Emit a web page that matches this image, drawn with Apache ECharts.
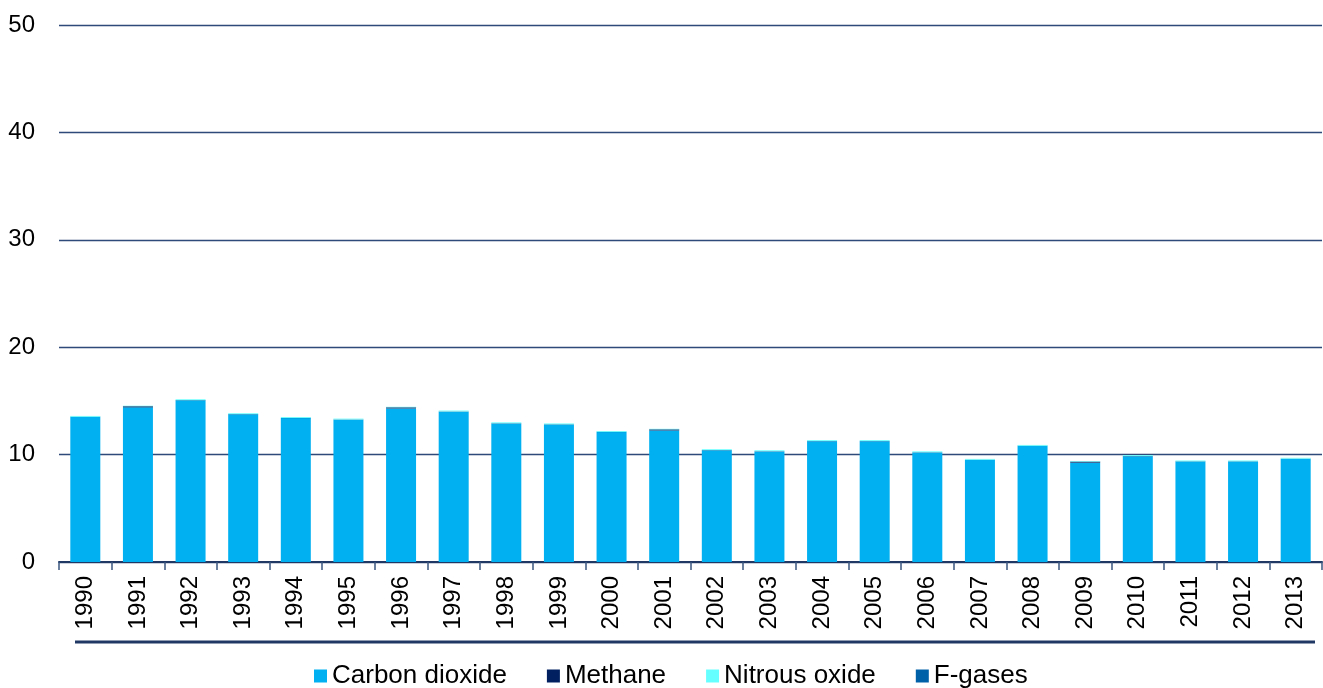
<!DOCTYPE html>
<html>
<head>
<meta charset="utf-8">
<script src="https://cdn.jsdelivr.net/npm/echarts@6/dist/echarts.min.js"></script>
<style>
  html, body { margin: 0; padding: 0; background: #fff; }
  #chart { width: 1323px; height: 688px; }
</style>
</head>
<body>
<div id="chart"></div>
<script>
// years on the x axis
const years = ['1990','1991','1992','1993','1994','1995','1996','1997','1998','1999','2000','2001',
  '2002','2003','2004','2005','2006','2007','2008','2009','2010','2011','2012','2013']
// emissions per gas
const carbonDioxide = [13.5, 14.4, 15.05, 13.75, 13.4, 13.25, 14.3, 14.0, 12.9, 12.8, 12.1, 12.25,
  10.4, 10.3, 11.25, 11.25, 10.2, 9.5, 10.8, 9.25, 9.85, 9.35, 9.35, 9.6]
const methane = [0.02, 0.1, 0.02, 0.02, 0.02, 0.02, 0.1, 0.02, 0.02, 0.02, 0.02, 0.1,
  0.02, 0.02, 0.02, 0.02, 0.02, 0.02, 0.02, 0.1, 0.02, 0.02, 0.02, 0.02]
const nitrousOxide = [0.08, 0.05, 0.08, 0.08, 0.08, 0.08, 0.05, 0.08, 0.08, 0.08, 0.08, 0.05,
  0.08, 0.08, 0.08, 0.08, 0.08, 0.08, 0.08, 0.05, 0.08, 0.08, 0.08, 0.08]
const fGases = [0, 0, 0, 0, 0, 0, 0, 0, 0, 0, 0, 0, 0, 0, 0, 0, 0, 0, 0, 0, 0, 0, 0, 0]
const yTicks = [0, 10, 20, 30, 40, 50]

const chart = echarts.init(document.getElementById('chart'))
const font = 'Liberation Sans, Arial, sans-serif'

const mkSeries = (name, data, color) => ({
  name, type: 'bar', stack: 'total', data,
  barCategoryGap: '43%',
  itemStyle: { color },
  emphasis: { disabled: true }
})

const option = {
  animation: false,
  textStyle: { fontFamily: font },
  grid: { left: 59, right: 1, top: 25, bottom: 126 },
  legend: {
    left: 309, top: 658,
    itemWidth: 13, itemHeight: 13, itemGap: 40,
    icon: 'rect',
    textStyle: { fontSize: 26, color: '#000', fontFamily: font },
    data: ['Carbon dioxide', 'Methane', 'Nitrous oxide', 'F-gases']
  },
  xAxis: {
    type: 'category',
    data: years,
    axisLine: { lineStyle: { color: '#1F3864', width: 2 } },
    axisTick: { show: true, length: 8, lineStyle: { color: '#3B5580', width: 1.5 } },
    axisLabel: { rotate: 90, fontSize: 24, color: '#000', margin: 14, fontFamily: font }
  },
  yAxis: {
    type: 'value',
    min: yTicks[0], max: yTicks[yTicks.length - 1], interval: 10,
    axisLine: { show: false },
    axisTick: { show: false },
    axisLabel: { fontSize: 24, color: '#000', margin: 24, fontFamily: font },
    splitLine: { lineStyle: { color: '#2E4A7A', width: 1.3 } }
  },
  graphic: [{
    type: 'line',
    shape: { x1: 75, y1: 642, x2: 1315, y2: 642 },
    style: { stroke: '#1F3864', lineWidth: 3 }
  }],
  series: [
    mkSeries('Carbon dioxide', carbonDioxide, '#00B0F0'),
    mkSeries('Methane', methane, '#002060'),
    mkSeries('Nitrous oxide', nitrousOxide, '#66FFFF'),
    mkSeries('F-gases', fGases, '#0060A8')
  ]
}

chart.setOption(option)
</script>
</body>
</html>
